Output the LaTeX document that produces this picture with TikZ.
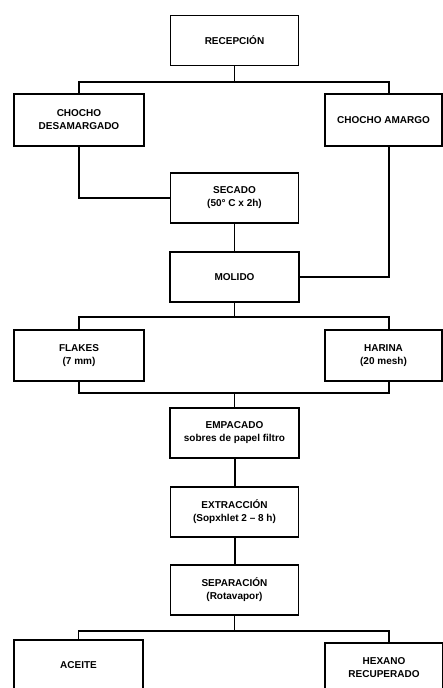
\documentclass[tikz,border=0pt]{standalone}
\usepackage{fontspec}
\setmainfont{Liberation Sans}
\tikzset{
  box/.style={draw, line width=1.7pt, align=center, font=\bfseries\fontsize{10}{13}\selectfont,
    minimum width=128pt, minimum height=50pt, inner sep=2pt},
  conn/.style={line width=1.3pt}
}
\begin{document}
\begin{tikzpicture}[x=1pt, y=-1pt]
\useasboundingbox (0,0) rectangle (443,688);
\node[box] (recep) at (234.5,40.5) {RECEPCIÓN};
\node[box, minimum width=130pt, minimum height=52pt] (desam) at (79,120) {CHOCHO\\DESAMARGADO};
\node[box, minimum width=117pt, minimum height=52pt] (amargo) at (383.5,120) {CHOCHO AMARGO};
\node[box] (secado) at (234.5,198) {SECADO\\(50° C x 2h)};
\node[box, minimum width=129pt] (molido) at (234.5,277) {MOLIDO};
\node[box, minimum width=130pt, minimum height=51pt] (flakes) at (79,355.5) {FLAKES\\(7 mm)};
\node[box, minimum width=117pt, minimum height=51pt] (harina) at (383.5,355.5) {HARINA\\(20 mesh)};
\node[box, minimum width=129pt] (empac) at (234.5,433) {EMPACADO\\sobres de papel filtro};
\node[box] (extrac) at (234.5,512) {EXTRACCIÓN\\(Sopxhlet 2 – 8 h)};
\node[box] (separ) at (234.5,590) {SEPARACIÓN\\(Rotavapor)};
\node[box, minimum width=129pt] (aceite) at (78.5,665) {ACEITE};
\node[box, minimum width=118pt] (hexano) at (384,668) {HEXANO\\RECUPERADO};

\coordinate (b1) at (234.5,82);
\coordinate (b2) at (234.5,317);
\coordinate (b3) at (234.5,393);
\coordinate (b4) at (234.5,631);

\draw[conn] (recep) -- (b1);
\draw[conn] (desam) |- (b1) -| ([xshift=5.5pt]amargo.north);
\draw[conn] (desam) |- (secado);
\draw[conn] ([xshift=5.5pt]amargo.south) |- (molido);
\draw[conn] (secado) -- (molido);
\draw[conn] (molido) -- (b2);
\draw[conn] (flakes) |- (b2) -| ([xshift=5.5pt]harina.north);
\draw[conn] (flakes) |- (b3) -| ([xshift=5.5pt]harina.south);
\draw[conn] (b3) -- (empac);
\draw[conn, line width=2pt] (empac) -- (extrac);
\draw[conn, line width=2pt] (extrac) -- (separ);
\draw[conn] (separ) -- (b4);
\draw[conn] (aceite) |- (b4) -| ([xshift=5pt]hexano.north);
\end{tikzpicture}
\end{document}
